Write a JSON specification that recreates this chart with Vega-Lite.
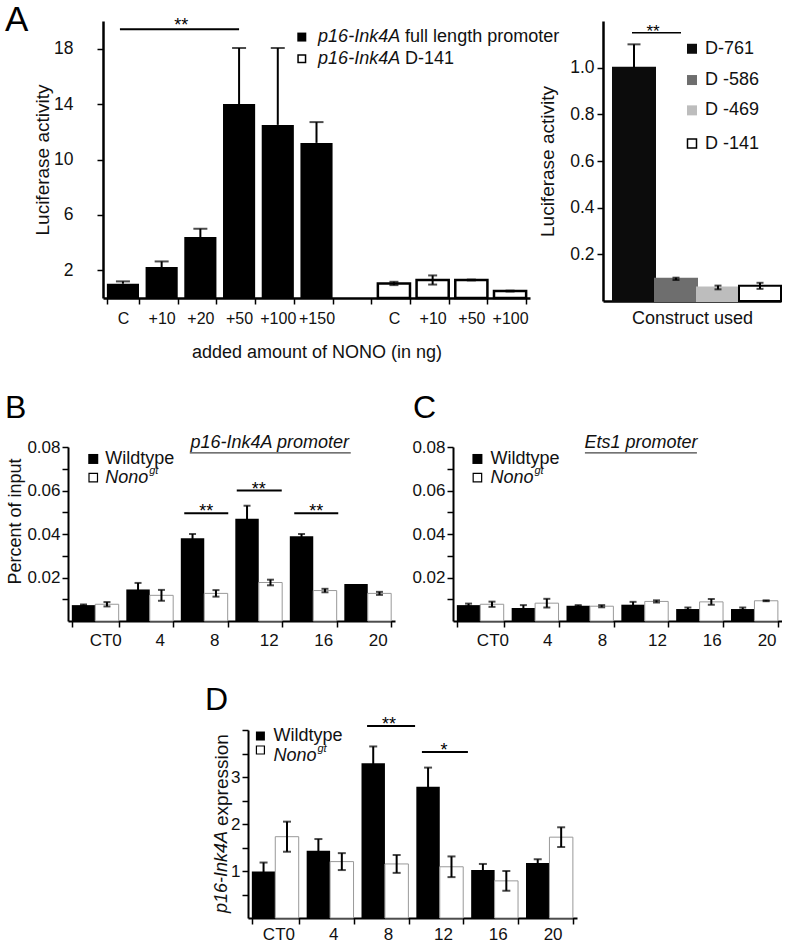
{
"$schema": "https://vega.github.io/schema/vega-lite/v6.json",
"padding": 0,
"bounds": "flush",
"spacing": 0,
"config": {
  "font": "Liberation Sans",
  "view": {"stroke": null},
  "axis": {"domainColor": "#000", "domainWidth": 2, "tickColor": "#000", "tickWidth": 1.5, "tickSize": 6, "labelColor": "#111", "labelFontSize": 17, "titleFontSize": 18, "titleFontWeight": "normal", "titleColor": "#111", "grid": false, "labelFont": "Liberation Sans", "titleFont": "Liberation Sans"},
  "title": {"fontSize": 32, "fontWeight": "normal", "anchor": "start", "frame": "group", "color": "#000", "offset": 0, "font": "Liberation Sans", "baseline": "alphabetic"},
  "text": {"font": "Liberation Sans", "color": "#111"}
},
"datasets": {
  "aL": [
    {"k": "C", "s": "full", "v": 1.03, "lo": 1.03, "hi": 1.2},
    {"k": "+10", "s": "full", "v": 2.23, "lo": 2.23, "hi": 2.64},
    {"k": "+20", "s": "full", "v": 4.4, "lo": 4.4, "hi": 5.0},
    {"k": "+50", "s": "full", "v": 14.0, "lo": 14.0, "hi": 18.05},
    {"k": "+100", "s": "full", "v": 12.5, "lo": 12.5, "hi": 18.05},
    {"k": "+150", "s": "full", "v": 11.2, "lo": 11.2, "hi": 12.7},
    {"k": "C_", "s": "d141", "v": 1.05, "lo": 0.93, "hi": 1.17},
    {"k": "+10_", "s": "d141", "v": 1.3, "lo": 0.97, "hi": 1.63},
    {"k": "+50_", "s": "d141", "v": 1.3, "lo": 1.27, "hi": 1.33},
    {"k": "+100_", "s": "d141", "v": 0.5, "lo": 0.47, "hi": 0.53}
  ],
  "aR": [
    {"c": "D-761", "v": 1.0, "lo": 1.0, "hi": 1.1},
    {"c": "D -586", "v": 0.095, "lo": 0.09, "hi": 0.1},
    {"c": "D -469", "v": 0.058, "lo": 0.05, "hi": 0.066},
    {"c": "D -141", "v": 0.065, "lo": 0.052, "hi": 0.078}
  ],
  "b": [
    {"t": "CT0", "g": "wt", "v": 0.0073, "lo": 0.007, "hi": 0.0076},
    {"t": "CT0", "g": "nono", "v": 0.0077, "lo": 0.0067, "hi": 0.0087},
    {"t": "4", "g": "wt", "v": 0.0145, "lo": 0.0115, "hi": 0.0175},
    {"t": "4", "g": "nono", "v": 0.0118, "lo": 0.0093, "hi": 0.0143},
    {"t": "8", "g": "wt", "v": 0.038, "lo": 0.036, "hi": 0.04},
    {"t": "8", "g": "nono", "v": 0.0127, "lo": 0.0112, "hi": 0.0142},
    {"t": "12", "g": "wt", "v": 0.047, "lo": 0.041, "hi": 0.053},
    {"t": "12", "g": "nono", "v": 0.0177, "lo": 0.0164, "hi": 0.019},
    {"t": "16", "g": "wt", "v": 0.039, "lo": 0.038, "hi": 0.04},
    {"t": "16", "g": "nono", "v": 0.014, "lo": 0.0132, "hi": 0.0148},
    {"t": "20", "g": "wt", "v": 0.017, "lo": null, "hi": null},
    {"t": "20", "g": "nono", "v": 0.0127, "lo": 0.012, "hi": 0.0134}
  ],
  "c": [
    {"t": "CT0", "g": "wt", "v": 0.0073, "lo": 0.0066, "hi": 0.008},
    {"t": "CT0", "g": "nono", "v": 0.0077, "lo": 0.0065, "hi": 0.0089},
    {"t": "4", "g": "wt", "v": 0.006, "lo": 0.0047, "hi": 0.0073},
    {"t": "4", "g": "nono", "v": 0.0082, "lo": 0.0062, "hi": 0.0102},
    {"t": "8", "g": "wt", "v": 0.007, "lo": 0.0067, "hi": 0.0073},
    {"t": "8", "g": "nono", "v": 0.0068, "lo": 0.0063, "hi": 0.0073},
    {"t": "12", "g": "wt", "v": 0.0075, "lo": 0.0062, "hi": 0.0088},
    {"t": "12", "g": "nono", "v": 0.009, "lo": 0.0085, "hi": 0.0095},
    {"t": "16", "g": "wt", "v": 0.0055, "lo": 0.0048, "hi": 0.0062},
    {"t": "16", "g": "nono", "v": 0.0088, "lo": 0.0075, "hi": 0.0101},
    {"t": "20", "g": "wt", "v": 0.0055, "lo": 0.0048, "hi": 0.0062},
    {"t": "20", "g": "nono", "v": 0.0093, "lo": 0.0091, "hi": 0.0095}
  ],
  "d": [
    {"t": "CT0", "g": "wt", "v": 0.99, "lo": 0.8, "hi": 1.18},
    {"t": "CT0", "g": "nono", "v": 1.73, "lo": 1.41, "hi": 2.05},
    {"t": "4", "g": "wt", "v": 1.43, "lo": 1.18, "hi": 1.68},
    {"t": "4", "g": "nono", "v": 1.2, "lo": 1.02, "hi": 1.38},
    {"t": "8", "g": "wt", "v": 3.29, "lo": 2.92, "hi": 3.65},
    {"t": "8", "g": "nono", "v": 1.15, "lo": 0.96, "hi": 1.34},
    {"t": "12", "g": "wt", "v": 2.79, "lo": 2.39, "hi": 3.2},
    {"t": "12", "g": "nono", "v": 1.09, "lo": 0.87, "hi": 1.31},
    {"t": "16", "g": "wt", "v": 1.02, "lo": 0.89, "hi": 1.15},
    {"t": "16", "g": "nono", "v": 0.79, "lo": 0.58, "hi": 1.0},
    {"t": "20", "g": "wt", "v": 1.17, "lo": 1.09, "hi": 1.25},
    {"t": "20", "g": "nono", "v": 1.72, "lo": 1.51, "hi": 1.93}
  ]
},
"vconcat": [
  {"width": 1, "height": 21, "data": {"values": [{}]}, "mark": {"type": "text", "text": ""}},
  {
    "bounds": "flush", "spacing": 0,
    "hconcat": [
      {"width": 103, "height": 1, "data": {"values": [{}]}, "mark": {"type": "text", "text": ""}},
      {
        "width": 427, "height": 277,
        "title": {"text": "A", "fontSize": 35, "dx": -98, "dy": 25},
        "data": {"name": "aL"},
        "encoding": {
          "x": {"field": "k", "type": "nominal", "sort": null,
            "scale": {"domain": ["C", "+10", "+20", "+50", "+100", "+150", "gap", "C_", "+10_", "+50_", "+100_"], "paddingInner": 0.17, "paddingOuter": 0.1},
            "axis": {"title": "added amount of NONO (in ng)", "labelExpr": "datum.label == 'gap' ? '' : replace(datum.label, '_', '')", "tickBand": "extent", "labelAngle": 0, "labelPadding": 6, "titlePadding": 17, "labelFontSize": 16, "domainWidth": 2.5}}
        },
        "layer": [
          {"transform": [{"filter": "datum.s == 'full'"}], "mark": {"type": "bar", "fill": "#000"},
           "encoding": {"y": {"field": "v", "type": "quantitative", "scale": {"domain": [0, 20]},
             "axis": {"values": [2, 4, 6, 8, 10, 12, 14, 16, 18, 20], "labelExpr": "datum.value % 4 == 2 ? datum.label : ''", "title": "Luciferase activity", "labelPadding": 24, "titlePadding": 1, "titleFontSize": 19, "labelFontSize": 17.5, "domainWidth": 2.5}}}},
          {"transform": [{"filter": "datum.s == 'd141'"}], "mark": {"type": "bar", "fill": "#fff", "stroke": "#000", "strokeWidth": 2.5},
           "encoding": {"y": {"field": "v", "type": "quantitative"}}},
          {"mark": {"type": "rule", "strokeWidth": 2, "color": "#000"},
           "encoding": {"y": {"field": "lo", "type": "quantitative"}, "y2": {"field": "hi"}}},
          {"transform": [{"filter": "datum.s == 'full'"}], "mark": {"type": "tick", "orient": "horizontal", "size": 14, "thickness": 2, "color": "#000"},
           "encoding": {"y": {"field": "hi", "type": "quantitative"}}},
          {"transform": [{"filter": "datum.s == 'd141'"}], "mark": {"type": "tick", "orient": "horizontal", "size": 9, "thickness": 2, "color": "#000"},
           "encoding": {"y": {"field": "hi", "type": "quantitative"}}},
          {"transform": [{"filter": "datum.s == 'd141'"}], "mark": {"type": "tick", "orient": "horizontal", "size": 9, "thickness": 2, "color": "#000"},
           "encoding": {"y": {"field": "lo", "type": "quantitative"}}},
          {"data": {"values": [{}]}, "mark": {"type": "rule", "strokeWidth": 2, "color": "#000", "xOffset": -3},
           "encoding": {"x": {"datum": "C", "type": "nominal"}, "x2": {"datum": "+50"}, "y": {"datum": 19.4, "type": "quantitative"}}},
          {"data": {"values": [{}]}, "mark": {"type": "text", "text": "**", "fontSize": 18, "dx": -19, "dy": 2, "baseline": "alphabetic", "color": "#000"},
           "encoding": {"x": {"datum": "+20", "type": "nominal"}, "y": {"datum": 19.4, "type": "quantitative"}}},
          {"data": {"values": [{}]}, "mark": {"type": "point", "shape": "square", "filled": true, "fill": "#000", "size": 81, "opacity": 1, "xOffset": -14.7},
           "encoding": {"x": {"datum": "+150", "type": "nominal"}, "y": {"datum": 18.84, "type": "quantitative"}}},
          {"data": {"values": [{}]}, "mark": {"type": "point", "shape": "square", "filled": true, "fill": "#fff", "stroke": "#000", "strokeWidth": 1.5, "size": 56, "opacity": 1, "xOffset": -14.7},
           "encoding": {"x": {"datum": "+150", "type": "nominal"}, "y": {"datum": 17.28, "type": "quantitative"}}},
          {"data": {"values": [{}]}, "mark": {"type": "text", "text": "p16-Ink4A", "fontStyle": "italic", "fontSize": 18, "align": "left", "baseline": "middle", "dx": 1.6},
           "encoding": {"x": {"datum": "+150", "type": "nominal"}, "y": {"datum": 18.84, "type": "quantitative"}}},
          {"data": {"values": [{}]}, "mark": {"type": "text", "text": "full length promoter", "fontSize": 18, "align": "left", "baseline": "middle", "dx": 88.6},
           "encoding": {"x": {"datum": "+150", "type": "nominal"}, "y": {"datum": 18.84, "type": "quantitative"}}},
          {"data": {"values": [{}]}, "mark": {"type": "text", "text": "p16-Ink4A", "fontStyle": "italic", "fontSize": 18, "align": "left", "baseline": "middle", "dx": 1.6},
           "encoding": {"x": {"datum": "+150", "type": "nominal"}, "y": {"datum": 17.28, "type": "quantitative"}}},
          {"data": {"values": [{}]}, "mark": {"type": "text", "text": "D-141", "fontSize": 18, "align": "left", "baseline": "middle", "dx": 88.6},
           "encoding": {"x": {"datum": "+150", "type": "nominal"}, "y": {"datum": 17.28, "type": "quantitative"}}}
        ]
      },
      {"width": 73, "height": 1, "data": {"values": [{}]}, "mark": {"type": "text", "text": ""}},
      {
        "width": 178, "height": 280,
        "data": {"name": "aR"},
        "encoding": {
          "x": {"field": "c", "type": "nominal", "sort": null,
            "scale": {"domain": ["D-761", "D -586", "D -469", "D -141"], "paddingInner": 0, "paddingOuter": 0.119, "align": 1},
            "axis": {"labels": false, "ticks": false, "title": "Construct used", "titlePadding": 8, "domainWidth": 2.5}}
        },
        "layer": [
          {"mark": {"type": "bar", "strokeWidth": 2},
           "encoding": {
             "y": {"field": "v", "type": "quantitative", "scale": {"domain": [0, 1.138]},
               "axis": {"values": [0.2, 0.4, 0.6, 0.8, 1.0], "format": ".1f", "title": "Luciferase activity", "labelPadding": 3, "titlePadding": 12, "titleFontSize": 19, "labelFontSize": 17.5, "domainWidth": 2.5}},
             "fill": {"field": "c", "type": "nominal", "scale": {"domain": ["D-761", "D -586", "D -469", "D -141"], "range": ["#0c0c0c", "#6e6e6e", "#bdbdbd", "#ffffff"]}, "legend": null},
             "stroke": {"field": "c", "type": "nominal", "scale": {"domain": ["D-761", "D -586", "D -469", "D -141"], "range": ["#0c0c0c", "#6e6e6e", "#bdbdbd", "#000000"]}, "legend": null}
           }},
          {"mark": {"type": "rule", "strokeWidth": 2, "color": "#000"},
           "encoding": {"y": {"field": "lo", "type": "quantitative"}, "y2": {"field": "hi"}}},
          {"transform": [{"filter": "datum.c == 'D-761'"}], "mark": {"type": "tick", "orient": "horizontal", "size": 13, "thickness": 2, "color": "#000"},
           "encoding": {"y": {"field": "hi", "type": "quantitative"}}},
          {"transform": [{"filter": "datum.c != 'D-761'"}], "mark": {"type": "tick", "orient": "horizontal", "size": 7, "thickness": 2, "color": "#000"},
           "encoding": {"y": {"field": "hi", "type": "quantitative"}}},
          {"transform": [{"filter": "datum.c != 'D-761'"}], "mark": {"type": "tick", "orient": "horizontal", "size": 7, "thickness": 2, "color": "#000"},
           "encoding": {"y": {"field": "lo", "type": "quantitative"}}},
          {"data": {"values": [{}]}, "mark": {"type": "rule", "strokeWidth": 1.5, "color": "#000", "xOffset": -2, "x2Offset": 5},
           "encoding": {"x": {"datum": "D-761", "type": "nominal"}, "x2": {"datum": "D -586"}, "y": {"datum": 1.15, "type": "quantitative"}}},
          {"data": {"values": [{}]}, "mark": {"type": "text", "text": "**", "fontSize": 17, "dx": 19, "dy": 4, "baseline": "alphabetic", "color": "#000"},
           "encoding": {"x": {"datum": "D-761", "type": "nominal"}, "y": {"datum": 1.15, "type": "quantitative"}}},
          {"data": {"values": [{}]}, "mark": {"type": "point", "shape": "square", "filled": true, "fill": "#0c0c0c", "size": 100, "opacity": 1, "xOffset": -26},
           "encoding": {"x": {"datum": "D -469", "type": "nominal"}, "y": {"datum": 1.081, "type": "quantitative"}}},
          {"data": {"values": [{}]}, "mark": {"type": "point", "shape": "square", "filled": true, "fill": "#6e6e6e", "size": 100, "opacity": 1, "xOffset": -26},
           "encoding": {"x": {"datum": "D -469", "type": "nominal"}, "y": {"datum": 0.947, "type": "quantitative"}}},
          {"data": {"values": [{}]}, "mark": {"type": "point", "shape": "square", "filled": true, "fill": "#bdbdbd", "size": 100, "opacity": 1, "xOffset": -26},
           "encoding": {"x": {"datum": "D -469", "type": "nominal"}, "y": {"datum": 0.817, "type": "quantitative"}}},
          {"data": {"values": [{}]}, "mark": {"type": "point", "shape": "square", "filled": true, "fill": "#fff", "stroke": "#000", "strokeWidth": 1.5, "size": 81, "opacity": 1, "xOffset": -26},
           "encoding": {"x": {"datum": "D -469", "type": "nominal"}, "y": {"datum": 0.675, "type": "quantitative"}}},
          {"data": {"values": [{}]}, "mark": {"type": "text", "text": "D-761", "fontSize": 18, "align": "left", "baseline": "middle", "dx": -13},
           "encoding": {"x": {"datum": "D -469", "type": "nominal"}, "y": {"datum": 1.081, "type": "quantitative"}}},
          {"data": {"values": [{}]}, "mark": {"type": "text", "text": "D -586", "fontSize": 18, "align": "left", "baseline": "middle", "dx": -13},
           "encoding": {"x": {"datum": "D -469", "type": "nominal"}, "y": {"datum": 0.947, "type": "quantitative"}}},
          {"data": {"values": [{}]}, "mark": {"type": "text", "text": "D -469", "fontSize": 18, "align": "left", "baseline": "middle", "dx": -13},
           "encoding": {"x": {"datum": "D -469", "type": "nominal"}, "y": {"datum": 0.817, "type": "quantitative"}}},
          {"data": {"values": [{}]}, "mark": {"type": "text", "text": "D -141", "fontSize": 18, "align": "left", "baseline": "middle", "dx": -13},
           "encoding": {"x": {"datum": "D -469", "type": "nominal"}, "y": {"datum": 0.675, "type": "quantitative"}}}
        ]
      }
    ]
  },
  {"width": 1, "height": 426, "data": {"values": [{}]}, "mark": {"type": "text", "text": ""}},
  {
    "bounds": "flush", "spacing": 0,
    "hconcat": [
      {"width": 68, "height": 1, "data": {"values": [{}]}, "mark": {"type": "text", "text": ""}},
      {
        "width": 327, "height": 174,
        "title": {"text": "B", "dx": -63, "dy": -5},
        "data": {"name": "b"},
        "resolve": {"axis": {"y": "independent"}},
        "encoding": {
          "x": {"field": "t", "type": "nominal", "sort": null,
            "scale": {"domain": ["CT0", "4", "8", "12", "16", "20"], "paddingInner": 0.14, "paddingOuter": 0.07},
            "axis": {"title": null, "tickBand": "extent", "labelAngle": 0, "labelOffset": 10, "labelPadding": 5}}
        },
        "layer": [
          {"transform": [{"filter": "datum.g == 'wt'"}], "mark": {"type": "bar", "fill": "#000"},
           "encoding": {"xOffset": {"field": "g", "type": "nominal", "sort": null, "scale": {"domain": ["wt", "nono"], "paddingInner": 0, "paddingOuter": 0}},
             "y": {"field": "v", "type": "quantitative", "scale": {"domain": [0, 0.08]},
               "axis": {"orient": "left", "values": [0.02, 0.04, 0.06, 0.08], "format": ".2f", "title": "Percent of input", "labelPadding": 2, "titlePadding": 2, "titleY": 74, "labelFontSize": 17, "domainWidth": 2}}}},
          {"transform": [{"filter": "datum.g == 'nono'"}], "mark": {"type": "bar", "fill": "#fff", "stroke": "#999", "strokeWidth": 1},
           "encoding": {"xOffset": {"field": "g", "type": "nominal", "sort": null, "scale": {"domain": ["wt", "nono"], "paddingInner": 0, "paddingOuter": 0}},
             "y": {"field": "v", "type": "quantitative",
               "axis": {"orient": "left", "values": [0.01, 0.03, 0.05, 0.07], "labels": false, "domain": false, "title": null}}}},
          {"mark": {"type": "rule", "strokeWidth": 2, "color": "#000"},
           "encoding": {"xOffset": {"field": "g", "type": "nominal", "sort": null, "scale": {"domain": ["wt", "nono"], "paddingInner": 0, "paddingOuter": 0}},
             "y": {"field": "lo", "type": "quantitative", "axis": null}, "y2": {"field": "hi"}}},
          {"mark": {"type": "tick", "orient": "horizontal", "size": 7, "thickness": 2, "color": "#000"},
           "encoding": {"xOffset": {"field": "g", "type": "nominal", "sort": null, "scale": {"domain": ["wt", "nono"], "paddingInner": 0, "paddingOuter": 0}},
             "y": {"field": "hi", "type": "quantitative", "axis": null}}},
          {"mark": {"type": "tick", "orient": "horizontal", "size": 7, "thickness": 2, "color": "#000"},
           "encoding": {"xOffset": {"field": "g", "type": "nominal", "sort": null, "scale": {"domain": ["wt", "nono"], "paddingInner": 0, "paddingOuter": 0}},
             "y": {"field": "lo", "type": "quantitative", "axis": null}}},
          {"data": {"values": [{}]}, "mark": {"type": "rule", "strokeWidth": 2, "color": "#000", "xOffset": -20, "x2Offset": 24},
           "encoding": {"x": {"datum": "8", "type": "nominal"}, "x2": {"datum": "8"}, "y": {"datum": 0.0495, "type": "quantitative", "axis": null}}},
          {"data": {"values": [{}]}, "mark": {"type": "text", "text": "**", "fontSize": 18, "dx": 2, "dy": 4, "baseline": "alphabetic", "color": "#000"},
           "encoding": {"x": {"datum": "8", "type": "nominal"}, "y": {"datum": 0.0495, "type": "quantitative", "axis": null}}},
          {"data": {"values": [{}]}, "mark": {"type": "rule", "strokeWidth": 2, "color": "#000", "xOffset": -22, "x2Offset": 23},
           "encoding": {"x": {"datum": "12", "type": "nominal"}, "x2": {"datum": "12"}, "y": {"datum": 0.06, "type": "quantitative", "axis": null}}},
          {"data": {"values": [{}]}, "mark": {"type": "text", "text": "**", "fontSize": 18, "dx": 0, "dy": 4, "baseline": "alphabetic", "color": "#000"},
           "encoding": {"x": {"datum": "12", "type": "nominal"}, "y": {"datum": 0.06, "type": "quantitative", "axis": null}}},
          {"data": {"values": [{}]}, "mark": {"type": "rule", "strokeWidth": 2, "color": "#000", "xOffset": -19, "x2Offset": 25},
           "encoding": {"x": {"datum": "16", "type": "nominal"}, "x2": {"datum": "16"}, "y": {"datum": 0.0495, "type": "quantitative", "axis": null}}},
          {"data": {"values": [{}]}, "mark": {"type": "text", "text": "**", "fontSize": 18, "dx": 3, "dy": 4, "baseline": "alphabetic", "color": "#000"},
           "encoding": {"x": {"datum": "16", "type": "nominal"}, "y": {"datum": 0.0495, "type": "quantitative", "axis": null}}},
          {"data": {"values": [{}]}, "mark": {"type": "text", "text": "p16-Ink4A promoter", "fontStyle": "italic", "fontSize": 18, "dx": 11, "dy": 1, "baseline": "alphabetic", "align": "center"},
           "encoding": {"x": {"datum": "12", "type": "nominal"}, "y": {"datum": 0.08, "type": "quantitative", "axis": null}}},
          {"data": {"values": [{}]}, "mark": {"type": "rule", "strokeWidth": 1.2, "color": "#444", "xOffset": -69, "x2Offset": 92},
           "encoding": {"x": {"datum": "12", "type": "nominal"}, "x2": {"datum": "12"}, "y": {"datum": 0.0773, "type": "quantitative", "axis": null}}},
          {"data": {"values": [{}]}, "mark": {"type": "point", "shape": "square", "filled": true, "fill": "#000", "size": 100, "opacity": 1, "xOffset": -2},
           "encoding": {"x": {"datum": "CT0", "type": "nominal"}, "y": {"datum": 0.0745, "type": "quantitative", "axis": null}}},
          {"data": {"values": [{}]}, "mark": {"type": "point", "shape": "square", "filled": true, "fill": "#fff", "stroke": "#000", "strokeWidth": 1.2, "size": 72, "opacity": 1, "xOffset": -2},
           "encoding": {"x": {"datum": "CT0", "type": "nominal"}, "y": {"datum": 0.0659, "type": "quantitative", "axis": null}}},
          {"data": {"values": [{}]}, "mark": {"type": "text", "text": "Wildtype", "fontSize": 18, "align": "left", "baseline": "middle", "dx": 10},
           "encoding": {"x": {"datum": "CT0", "type": "nominal"}, "y": {"datum": 0.0745, "type": "quantitative", "axis": null}}},
          {"data": {"values": [{}]}, "mark": {"type": "text", "text": "Nono", "fontStyle": "italic", "fontSize": 18, "align": "left", "baseline": "middle", "dx": 10},
           "encoding": {"x": {"datum": "CT0", "type": "nominal"}, "y": {"datum": 0.0659, "type": "quantitative", "axis": null}}},
          {"data": {"values": [{}]}, "mark": {"type": "text", "text": "gt", "fontStyle": "italic", "fontSize": 11, "align": "left", "baseline": "middle", "dx": 54, "dy": -7},
           "encoding": {"x": {"datum": "CT0", "type": "nominal"}, "y": {"datum": 0.0659, "type": "quantitative", "axis": null}}}
        ]
      },
      {"width": 58, "height": 1, "data": {"values": [{}]}, "mark": {"type": "text", "text": ""}},
      {
        "width": 329, "height": 174,
        "title": {"text": "C", "dx": -40, "dy": -5},
        "data": {"name": "c"},
        "resolve": {"axis": {"y": "independent"}},
        "encoding": {
          "x": {"field": "t", "type": "nominal", "sort": null,
            "scale": {"domain": ["CT0", "4", "8", "12", "16", "20"], "paddingInner": 0.14, "paddingOuter": 0.07},
            "axis": {"title": null, "tickBand": "extent", "labelAngle": 0, "labelOffset": 12, "labelPadding": 5}}
        },
        "layer": [
          {"transform": [{"filter": "datum.g == 'wt'"}], "mark": {"type": "bar", "fill": "#000"},
           "encoding": {"xOffset": {"field": "g", "type": "nominal", "sort": null, "scale": {"domain": ["wt", "nono"], "paddingInner": 0, "paddingOuter": 0}},
             "y": {"field": "v", "type": "quantitative", "scale": {"domain": [0, 0.08]},
               "axis": {"orient": "left", "values": [0.02, 0.04, 0.06, 0.08], "format": ".2f", "title": null, "labelPadding": 2, "labelFontSize": 17, "domainWidth": 2}}}},
          {"transform": [{"filter": "datum.g == 'nono'"}], "mark": {"type": "bar", "fill": "#fff", "stroke": "#999", "strokeWidth": 1},
           "encoding": {"xOffset": {"field": "g", "type": "nominal", "sort": null, "scale": {"domain": ["wt", "nono"], "paddingInner": 0, "paddingOuter": 0}},
             "y": {"field": "v", "type": "quantitative",
               "axis": {"orient": "left", "values": [0.01, 0.03, 0.05, 0.07], "labels": false, "domain": false, "title": null}}}},
          {"mark": {"type": "rule", "strokeWidth": 2, "color": "#000"},
           "encoding": {"xOffset": {"field": "g", "type": "nominal", "sort": null, "scale": {"domain": ["wt", "nono"], "paddingInner": 0, "paddingOuter": 0}},
             "y": {"field": "lo", "type": "quantitative", "axis": null}, "y2": {"field": "hi"}}},
          {"mark": {"type": "tick", "orient": "horizontal", "size": 7, "thickness": 2, "color": "#000"},
           "encoding": {"xOffset": {"field": "g", "type": "nominal", "sort": null, "scale": {"domain": ["wt", "nono"], "paddingInner": 0, "paddingOuter": 0}},
             "y": {"field": "hi", "type": "quantitative", "axis": null}}},
          {"mark": {"type": "tick", "orient": "horizontal", "size": 7, "thickness": 2, "color": "#000"},
           "encoding": {"xOffset": {"field": "g", "type": "nominal", "sort": null, "scale": {"domain": ["wt", "nono"], "paddingInner": 0, "paddingOuter": 0}},
             "y": {"field": "lo", "type": "quantitative", "axis": null}}},
          {"data": {"values": [{}]}, "mark": {"type": "text", "text": "Ets1 promoter", "fontStyle": "italic", "fontSize": 18, "dx": -4, "dy": 1, "baseline": "alphabetic", "align": "center"},
           "encoding": {"x": {"datum": "12", "type": "nominal"}, "y": {"datum": 0.08, "type": "quantitative", "axis": null}}},
          {"data": {"values": [{}]}, "mark": {"type": "rule", "strokeWidth": 1.2, "color": "#444", "xOffset": -60, "x2Offset": 52},
           "encoding": {"x": {"datum": "12", "type": "nominal"}, "x2": {"datum": "12"}, "y": {"datum": 0.0773, "type": "quantitative", "axis": null}}},
          {"data": {"values": [{}]}, "mark": {"type": "point", "shape": "square", "filled": true, "fill": "#000", "size": 100, "opacity": 1, "xOffset": -3},
           "encoding": {"x": {"datum": "CT0", "type": "nominal"}, "y": {"datum": 0.0745, "type": "quantitative", "axis": null}}},
          {"data": {"values": [{}]}, "mark": {"type": "point", "shape": "square", "filled": true, "fill": "#fff", "stroke": "#000", "strokeWidth": 1.2, "size": 72, "opacity": 1, "xOffset": -3},
           "encoding": {"x": {"datum": "CT0", "type": "nominal"}, "y": {"datum": 0.0659, "type": "quantitative", "axis": null}}},
          {"data": {"values": [{}]}, "mark": {"type": "text", "text": "Wildtype", "fontSize": 18, "align": "left", "baseline": "middle", "dx": 10},
           "encoding": {"x": {"datum": "CT0", "type": "nominal"}, "y": {"datum": 0.0745, "type": "quantitative", "axis": null}}},
          {"data": {"values": [{}]}, "mark": {"type": "text", "text": "Nono", "fontStyle": "italic", "fontSize": 18, "align": "left", "baseline": "middle", "dx": 10},
           "encoding": {"x": {"datum": "CT0", "type": "nominal"}, "y": {"datum": 0.0659, "type": "quantitative", "axis": null}}},
          {"data": {"values": [{}]}, "mark": {"type": "text", "text": "gt", "fontStyle": "italic", "fontSize": 11, "align": "left", "baseline": "middle", "dx": 54, "dy": -7},
           "encoding": {"x": {"datum": "CT0", "type": "nominal"}, "y": {"datum": 0.0659, "type": "quantitative", "axis": null}}}
        ]
      }
    ]
  },
  {"width": 1, "height": 283, "data": {"values": [{}]}, "mark": {"type": "text", "text": ""}},
  {
    "bounds": "flush", "spacing": 0,
    "hconcat": [
      {"width": 248, "height": 1, "data": {"values": [{}]}, "mark": {"type": "text", "text": ""}},
      {
        "width": 329, "height": 188,
        "title": {"text": "D", "dx": -43, "dy": 5},
        "data": {"name": "d"},
        "resolve": {"axis": {"y": "independent"}},
        "encoding": {
          "x": {"field": "t", "type": "nominal", "sort": null,
            "scale": {"domain": ["CT0", "4", "8", "12", "16", "20"], "paddingInner": 0.14, "paddingOuter": 0.07},
            "axis": {"title": null, "tickBand": "extent", "labelAngle": 0, "labelOffset": 3, "labelPadding": 2}}
        },
        "layer": [
          {"transform": [{"filter": "datum.g == 'wt'"}], "mark": {"type": "bar", "fill": "#000"},
           "encoding": {"xOffset": {"field": "g", "type": "nominal", "sort": null, "scale": {"domain": ["wt", "nono"], "paddingInner": 0, "paddingOuter": 0}},
             "y": {"field": "v", "type": "quantitative", "scale": {"domain": [0, 4]},
               "axis": {"orient": "left", "values": [1, 2, 3], "format": "d", "title": null, "labelPadding": 2, "labelFontSize": 17, "domainWidth": 2}}}},
          {"transform": [{"filter": "datum.g == 'nono'"}], "mark": {"type": "bar", "fill": "#fff", "stroke": "#999", "strokeWidth": 1},
           "encoding": {"xOffset": {"field": "g", "type": "nominal", "sort": null, "scale": {"domain": ["wt", "nono"], "paddingInner": 0, "paddingOuter": 0}},
             "y": {"field": "v", "type": "quantitative",
               "axis": {"orient": "left", "values": [0.5, 1.5, 2.5, 3.5, 4], "labels": false, "domain": false, "title": null}}}},
          {"mark": {"type": "rule", "strokeWidth": 2, "color": "#000"},
           "encoding": {"xOffset": {"field": "g", "type": "nominal", "sort": null, "scale": {"domain": ["wt", "nono"], "paddingInner": 0, "paddingOuter": 0}},
             "y": {"field": "lo", "type": "quantitative", "axis": null}, "y2": {"field": "hi"}}},
          {"mark": {"type": "tick", "orient": "horizontal", "size": 8, "thickness": 2, "color": "#000"},
           "encoding": {"xOffset": {"field": "g", "type": "nominal", "sort": null, "scale": {"domain": ["wt", "nono"], "paddingInner": 0, "paddingOuter": 0}},
             "y": {"field": "hi", "type": "quantitative", "axis": null}}},
          {"mark": {"type": "tick", "orient": "horizontal", "size": 8, "thickness": 2, "color": "#000"},
           "encoding": {"xOffset": {"field": "g", "type": "nominal", "sort": null, "scale": {"domain": ["wt", "nono"], "paddingInner": 0, "paddingOuter": 0}},
             "y": {"field": "lo", "type": "quantitative", "axis": null}}},
          {"data": {"values": [{}]}, "mark": {"type": "rule", "strokeWidth": 2, "color": "#000", "xOffset": -18, "x2Offset": 30},
           "encoding": {"x": {"datum": "8", "type": "nominal"}, "x2": {"datum": "8"}, "y": {"datum": 4.085, "type": "quantitative", "axis": null}}},
          {"data": {"values": [{}]}, "mark": {"type": "text", "text": "**", "fontSize": 18, "dx": 4, "dy": 4, "baseline": "alphabetic", "color": "#000"},
           "encoding": {"x": {"datum": "8", "type": "nominal"}, "y": {"datum": 4.085, "type": "quantitative", "axis": null}}},
          {"data": {"values": [{}]}, "mark": {"type": "rule", "strokeWidth": 2, "color": "#000", "xOffset": -18, "x2Offset": 28},
           "encoding": {"x": {"datum": "12", "type": "nominal"}, "x2": {"datum": "12"}, "y": {"datum": 3.53, "type": "quantitative", "axis": null}}},
          {"data": {"values": [{}]}, "mark": {"type": "text", "text": "*", "fontSize": 18, "dx": 4, "dy": 4, "baseline": "alphabetic", "color": "#000"},
           "encoding": {"x": {"datum": "12", "type": "nominal"}, "y": {"datum": 3.53, "type": "quantitative", "axis": null}}},
          {"data": {"values": [{}]}, "mark": {"type": "text", "text": "p16-Ink4A", "fontStyle": "italic", "fontSize": 18, "angle": 270, "align": "left", "baseline": "middle", "dy": -53},
           "encoding": {"x": {"datum": "CT0", "type": "nominal"}, "y": {"datum": 0.106, "type": "quantitative", "axis": null}}},
          {"data": {"values": [{}]}, "mark": {"type": "text", "text": "expression", "fontSize": 19, "angle": 270, "align": "left", "baseline": "middle", "dy": -53},
           "encoding": {"x": {"datum": "CT0", "type": "nominal"}, "y": {"datum": 1.957, "type": "quantitative", "axis": null}}},
          {"data": {"values": [{}]}, "mark": {"type": "point", "shape": "square", "filled": true, "fill": "#000", "size": 81, "opacity": 1, "xOffset": -15},
           "encoding": {"x": {"datum": "CT0", "type": "nominal"}, "y": {"datum": 3.872, "type": "quantitative", "axis": null}}},
          {"data": {"values": [{}]}, "mark": {"type": "point", "shape": "square", "filled": true, "fill": "#fff", "stroke": "#000", "strokeWidth": 1.2, "size": 64, "opacity": 1, "xOffset": -15},
           "encoding": {"x": {"datum": "CT0", "type": "nominal"}, "y": {"datum": 3.574, "type": "quantitative", "axis": null}}},
          {"data": {"values": [{}]}, "mark": {"type": "text", "text": "Wildtype", "fontSize": 18, "align": "left", "baseline": "middle", "dx": -2},
           "encoding": {"x": {"datum": "CT0", "type": "nominal"}, "y": {"datum": 3.872, "type": "quantitative", "axis": null}}},
          {"data": {"values": [{}]}, "mark": {"type": "text", "text": "Nono", "fontStyle": "italic", "fontSize": 18, "align": "left", "baseline": "middle", "dx": -2},
           "encoding": {"x": {"datum": "CT0", "type": "nominal"}, "y": {"datum": 3.447, "type": "quantitative", "axis": null}}},
          {"data": {"values": [{}]}, "mark": {"type": "text", "text": "gt", "fontStyle": "italic", "fontSize": 11, "align": "left", "baseline": "middle", "dx": 42, "dy": -7},
           "encoding": {"x": {"datum": "CT0", "type": "nominal"}, "y": {"datum": 3.447, "type": "quantitative", "axis": null}}}
        ]
      }
    ]
  }
]
}
